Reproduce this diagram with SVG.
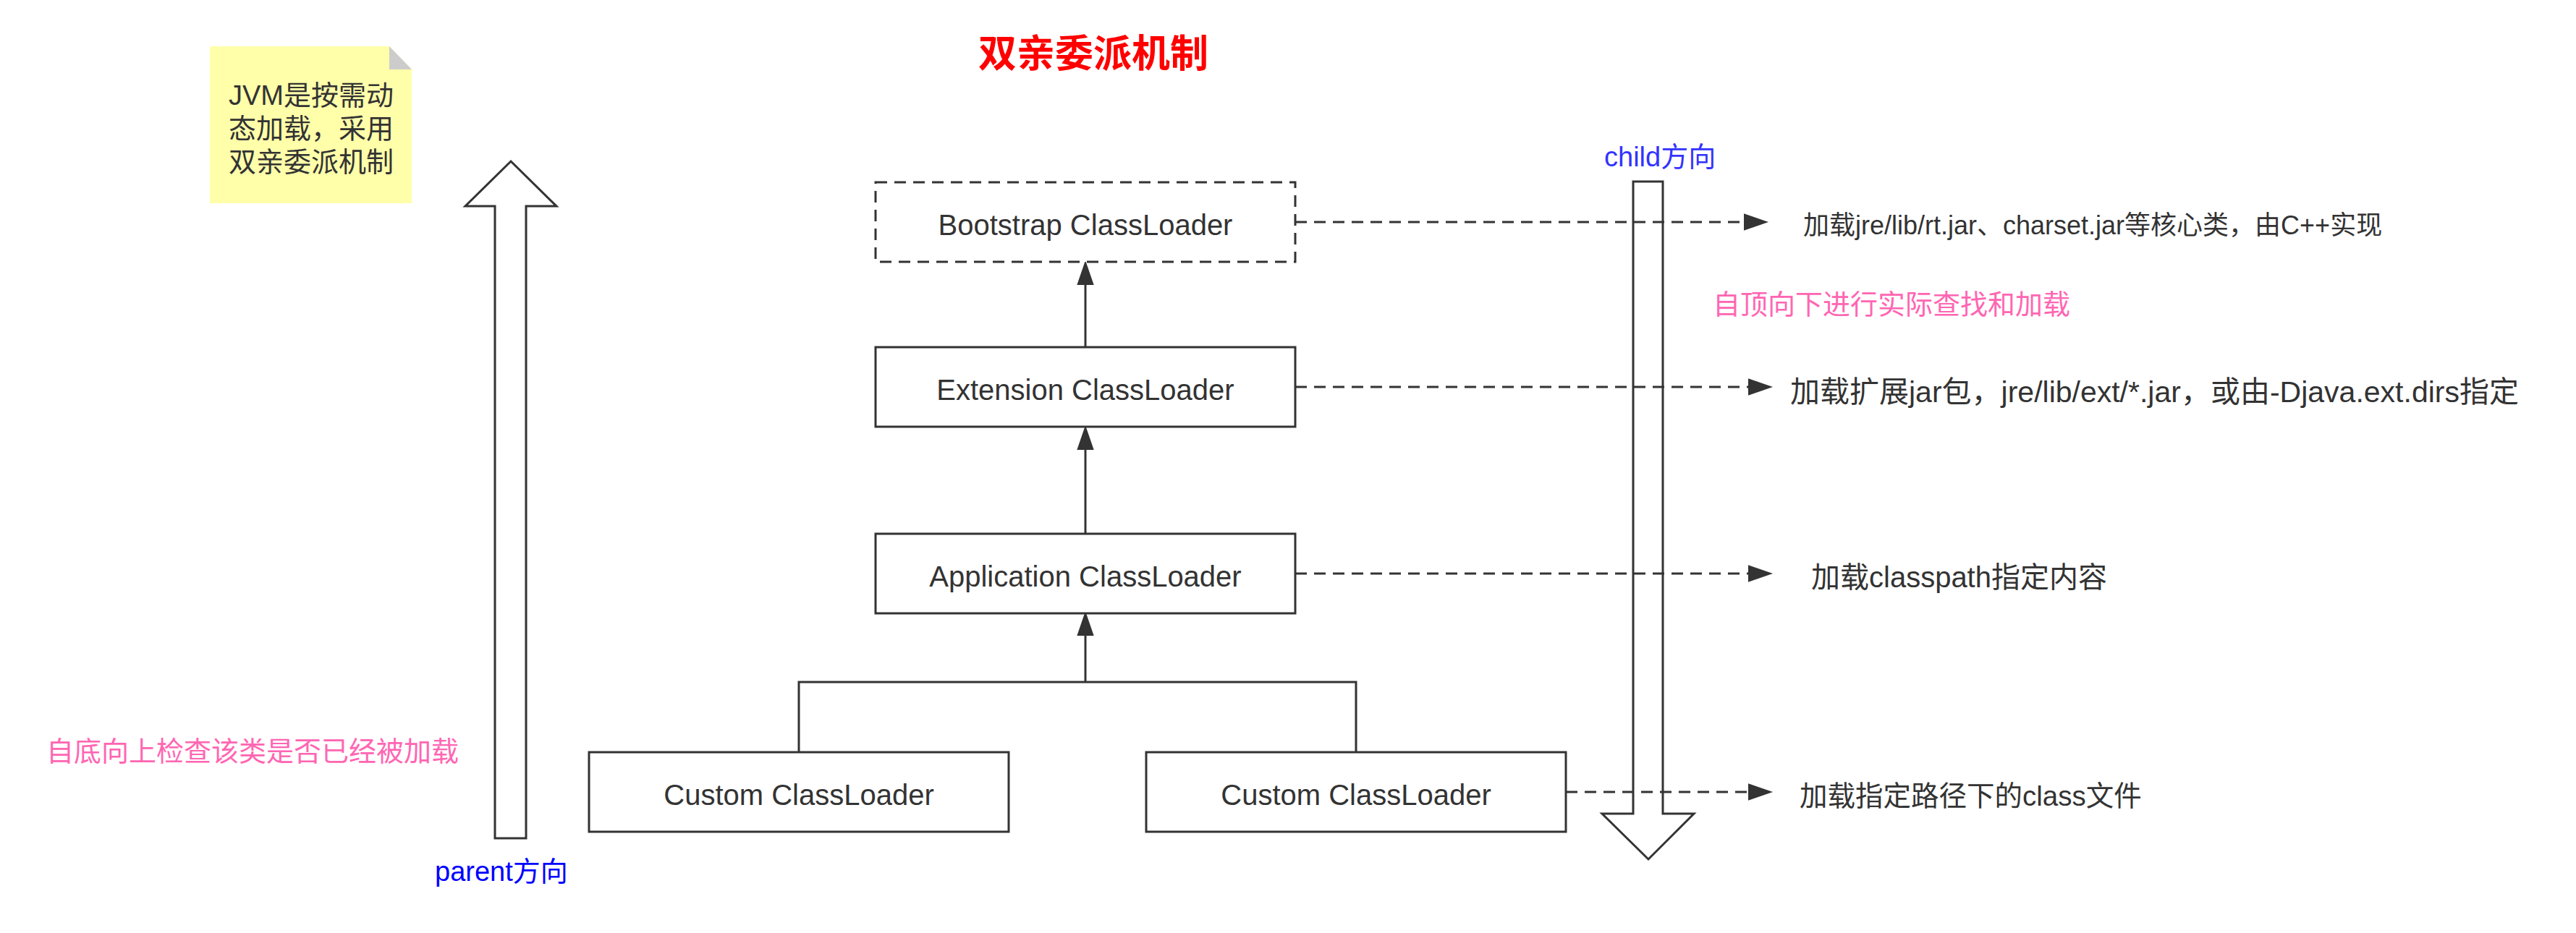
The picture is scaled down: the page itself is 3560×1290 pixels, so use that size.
<svg xmlns="http://www.w3.org/2000/svg" width="3560" height="1290" viewBox="0 0 3560 1290">
<style>
text{font-family:"Liberation Sans","Noto Sans CJK SC",sans-serif;fill:#333333}
.box{fill:#ffffff;stroke:#333333;stroke-width:3}
.dbox{fill:#ffffff;stroke:#333333;stroke-width:3;stroke-dasharray:16 10}
.bt{font-size:40px;text-anchor:middle}
.lab{font-size:40px}
.pink{fill:#FF66B3;font-size:38px}
.blue{fill:#0000FF;font-size:38px}
.line{fill:none;stroke:#333333;stroke-width:3}
.dash{fill:none;stroke:#333333;stroke-width:3;stroke-dasharray:16 10}
.big{fill:#ffffff;stroke:#333333;stroke-width:3}
</style>
<defs>
<marker id="tri" markerUnits="userSpaceOnUse" markerWidth="34" markerHeight="24" refX="0" refY="11" orient="auto" viewBox="0 0 32 22">
<path d="M0,0 L32,11 L0,22 z" fill="#333333"/>
</marker>
</defs>
<rect width="3560" height="1290" fill="#ffffff"/>

<g id="title">
<text x="1511" y="93" style="font-size:53px;font-weight:bold;fill:#FF0000;text-anchor:middle">双亲委派机制</text>
</g>

<g id="note">
<path d="M290,64 L538,64 L569,96 L569,281 L290,281 z" fill="#FFFFAA"/>
<path d="M538,64 L569,96 L538,96 z" fill="#CCCCCC"/>
<text x="430" y="145" style="font-size:38px;text-anchor:middle">JVM是按需动</text>
<text x="430" y="191" style="font-size:38px;text-anchor:middle">态加载，采用</text>
<text x="430" y="237" style="font-size:38px;text-anchor:middle">双亲委派机制</text>
</g>

<g id="parent-arrow">
<path class="big" d="M706,223 L769,285 L727,285 L727,1159 L684,1159 L684,285 L643,285 z"/>
</g>
<g id="child-arrow">
<path class="big" d="M2257,251 L2298,251 L2298,1125 L2341,1125 L2278,1188 L2214,1125 L2257,1125 z"/>
</g>

<g id="connectors">
<path class="line" d="M1500,480 L1500,394" marker-end="url(#tri)"/>
<path class="line" d="M1500,738 L1500,622" marker-end="url(#tri)"/>
<path class="line" d="M1500,943 L1500,879" marker-end="url(#tri)"/>
<path class="line" d="M1104,1040 L1104,943 L1874,943 L1874,1040"/>
<path class="dash" d="M1790,307 L2410,307" marker-end="url(#tri)"/>
<path class="dash" d="M1790,535 L2416,535" marker-end="url(#tri)"/>
<path class="dash" d="M1790,793 L2416,793" marker-end="url(#tri)"/>
<path class="dash" d="M2164,1095 L2416,1095" marker-end="url(#tri)"/>
</g>

<g id="bootstrap">
<rect class="dbox" x="1210" y="252" width="580" height="110"/>
<text class="bt" x="1500" y="325">Bootstrap ClassLoader</text>
</g>
<g id="extension">
<rect class="box" x="1210" y="480" width="580" height="110"/>
<text class="bt" x="1500" y="553">Extension ClassLoader</text>
</g>
<g id="application">
<rect class="box" x="1210" y="738" width="580" height="110"/>
<text class="bt" x="1500" y="811">Application ClassLoader</text>
</g>
<g id="custom1">
<rect class="box" x="814" y="1040" width="580" height="110"/>
<text class="bt" x="1104" y="1113">Custom ClassLoader</text>
</g>
<g id="custom2">
<rect class="box" x="1584" y="1040" width="580" height="110"/>
<text class="bt" x="1874" y="1113">Custom ClassLoader</text>
</g>

<g id="labels">
<text x="2492" y="324" style="font-size:36px">加载jre/lib/rt.jar、charset.jar等核心类，由C++实现</text>
<text x="2474" y="556" style="font-size:41px">加载扩展jar包，jre/lib/ext/*.jar，或由-Djava.ext.dirs指定</text>
<text class="lab" x="2503" y="812">加载classpath指定内容</text>
<text x="2487" y="1114" style="font-size:38.5px">加载指定路径下的class文件</text>
<text class="pink" x="2367" y="434">自顶向下进行实际查找和加载</text>
<text class="pink" x="64" y="1052">自底向上检查该类是否已经被加载</text>
<text class="blue" x="2217" y="230" style="fill:#3333FF">child方向</text>
<text class="blue" x="601" y="1218">parent方向</text>
</g>
</svg>
